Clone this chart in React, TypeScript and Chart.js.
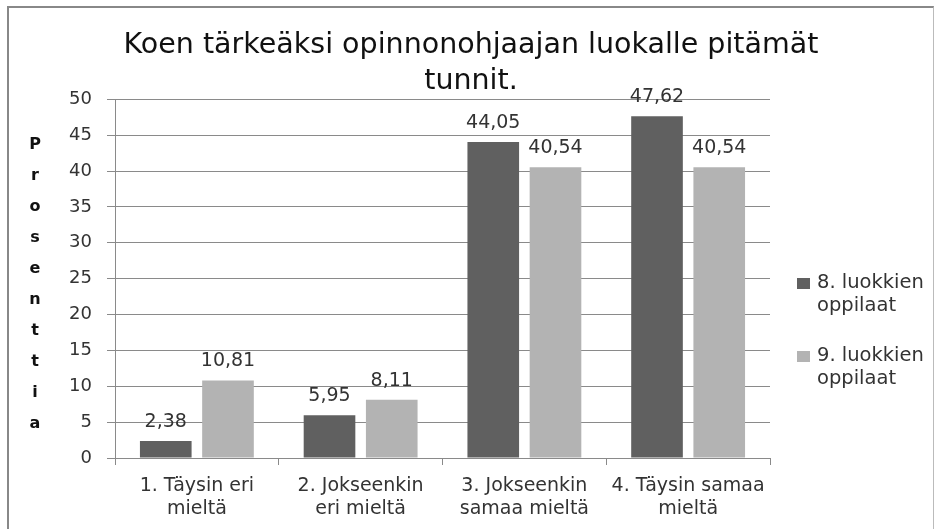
import React, { useEffect, useRef } from 'react';
import { Chart, registerables } from 'chart.js';

Chart.register(...registerables);

const TITLE_LINES = ['Koen tärkeäksi opinnonohjaajan luokalle pitämät', 'tunnit.'];
const CATEGORIES = [
  ['1. Täysin eri', 'mieltä'],
  ['2. Jokseenkin', 'eri mieltä'],
  ['3. Jokseenkin', 'samaa mieltä'],
  ['4. Täysin samaa', 'mieltä'],
];
const SERIES_NAMES = [
  ['8. luokkien', 'oppilaat'],
  ['9. luokkien', 'oppilaat'],
];
const GRADE8 = [2.38, 5.95, 44.05, 47.62];
const GRADE9 = [10.81, 8.11, 40.54, 40.54];
const Y_TITLE = 'Prosenttia';
const Y_MIN = 0;
const Y_MAX = 50;
const Y_STEP = 5;
const SERIES_COLORS = ['#606060', '#b3b3b3'];

const FONT = '"DejaVu Sans", Verdana, sans-serif';
const GRID = '#8a8a8a';
const TEXT = '#333333';

const dataLabels = {
  id: 'dataLabels',
  afterDatasetsDraw(chart: any) {
    const ctx = chart.ctx;
    ctx.save();
    ctx.font = `19px ${FONT}`;
    ctx.fillStyle = TEXT;
    ctx.textAlign = 'center';
    ctx.textBaseline = 'alphabetic';
    chart.data.datasets.forEach((ds: any, di: number) => {
      const meta = chart.getDatasetMeta(di);
      if (meta.hidden || meta.yAxisID !== 'y') return;
      meta.data.forEach((el: any, i: number) => {
        const v = ds.data[i] as number;
        ctx.fillText(v.toFixed(2).replace('.', ','), el.x, el.y - 14);
      });
    });
    ctx.restore();
  },
};

const yTitle = {
  id: 'yTitle',
  afterDraw(chart: any) {
    const ctx = chart.ctx;
    const { top, bottom } = chart.chartArea;
    const letters = Y_TITLE.split('');
    const step = 31;
    const mid = (top + bottom) / 2 + 6;
    ctx.save();
    ctx.font = `bold 16px ${FONT}`;
    ctx.fillStyle = '#111111';
    ctx.textAlign = 'center';
    ctx.textBaseline = 'middle';
    letters.forEach((ch, i) => {
      ctx.fillText(ch, 35, mid + (i - (letters.length - 1) / 2) * step);
    });
    ctx.restore();
  },
};

const sideLegend = {
  id: 'sideLegend',
  afterDraw(chart: any) {
    const ctx = chart.ctx;
    const x0 = chart.chartArea.right + 27;
    ctx.save();
    ctx.font = `19.5px ${FONT}`;
    ctx.textAlign = 'left';
    ctx.textBaseline = 'alphabetic';
    chart.data.datasets.forEach((ds: any, i: number) => {
      const base = 288 + i * 73;
      ctx.fillStyle = ds.backgroundColor;
      ctx.fillRect(x0, base - 10, 13, 11);
      ctx.fillStyle = TEXT;
      (ds.label as string[]).forEach((line: string, j: number) => {
        ctx.fillText(line, x0 + 20, base + j * 23);
      });
    });
    ctx.restore();
  },
};

export default function App() {
  const ref = useRef<HTMLCanvasElement | null>(null);

  useEffect(() => {
    if (!ref.current) return;
    const chart = new Chart(ref.current, {
      type: 'bar',
      data: {
        labels: CATEGORIES as any,
        datasets: [
          {
            label: SERIES_NAMES[0] as any,
            data: GRADE8,
            backgroundColor: SERIES_COLORS[0],
            categoryPercentage: 0.76,
            barPercentage: 0.83,
            yAxisID: 'y',
          },
          {
            label: SERIES_NAMES[1] as any,
            data: GRADE9,
            backgroundColor: SERIES_COLORS[1],
            categoryPercentage: 0.76,
            barPercentage: 0.83,
            yAxisID: 'y',
          },
        ],
      },
      options: {
        responsive: false,
        animation: false,
        devicePixelRatio: 1,
        layout: { padding: { left: 7, right: 0, top: 0, bottom: 9 } },
        plugins: {
          legend: { display: false },
          tooltip: { enabled: false },
          title: {
            display: true,
            fullSize: true,
            text: TITLE_LINES,
            color: '#111111',
            font: { family: FONT, size: 28.5, weight: 'normal', lineHeight: 1.25 },
            padding: { top: 28, bottom: 0 },
          },
        },
        scales: {
          x: {
            offset: true,
            grid: {
              display: true,
              drawOnChartArea: false,
              drawTicks: true,
              tickLength: 7,
              color: GRID,
              offset: true,
            },
            border: { display: true, color: GRID },
            ticks: {
              color: TEXT,
              font: { family: FONT, size: 19, lineHeight: 1.2 },
              padding: 10,
              maxRotation: 0,
              autoSkip: false,
            },
            afterFit: (s: any) => {
              s.height = 62;
            },
          },
          y: {
            min: Y_MIN,
            max: Y_MAX,
            grid: { color: GRID, tickLength: 8, drawTicks: true },
            border: { display: true, color: GRID },
            ticks: {
              stepSize: Y_STEP,
              color: TEXT,
              font: { family: FONT, size: 18 },
              padding: 15,
            },
            afterFit: (s: any) => {
              s.width = 108;
            },
          },
          legendSpace: {
            type: 'linear',
            position: 'right',
            display: true,
            grid: { display: false, drawTicks: false },
            border: { display: false },
            ticks: { display: false },
            afterFit: (s: any) => {
              s.width = 165;
            },
          },
        },
      },
      plugins: [dataLabels, yTitle, sideLegend],
    });
    return () => chart.destroy();
  }, []);

  return (
    <div style={{ position: 'fixed', left: 0, top: 0, width: 935, height: 529, overflow: 'hidden', background: '#fff' }}>
      <div
        style={{
          position: 'absolute',
          left: 7,
          top: 6,
          width: 927,
          height: 540,
          borderLeft: '2px solid #888888',
          borderTop: '2px solid #888888',
          borderRight: '1px solid #bbbbbb',
          boxSizing: 'border-box',
        }}
      />
      <canvas ref={ref} width={935} height={529} style={{ position: 'absolute', left: 0, top: 0 }} />
    </div>
  );
}
